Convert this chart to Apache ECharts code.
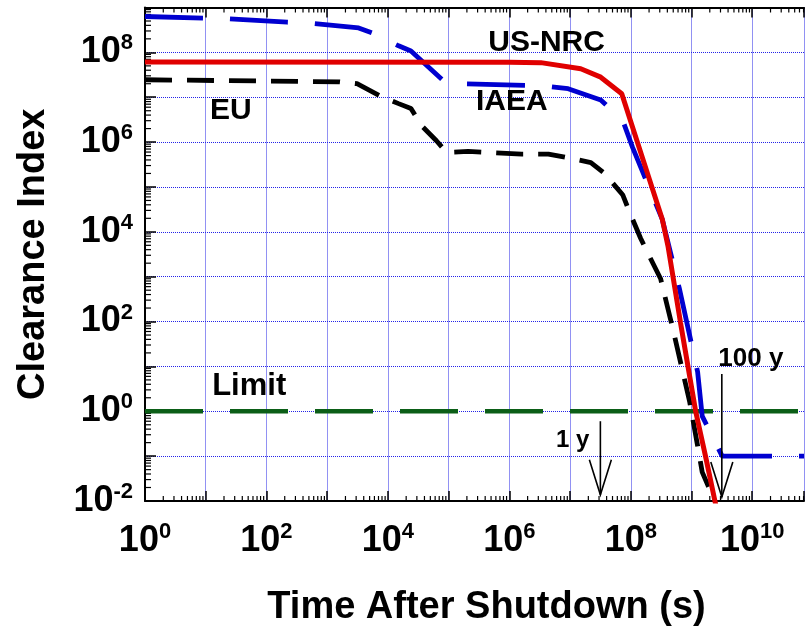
<!DOCTYPE html>
<html><head><meta charset="utf-8">
<script src="https://cdn.jsdelivr.net/npm/echarts@6/dist/echarts.min.js"></script>
<style>html,body{margin:0;padding:0;background:#fff}#c{width:807px;height:632px}</style>
</head><body><div id="c"></div>
<script>
// ---- axis ranges & tick labels ----
const X_MIN = 1, X_MAX = 7.12e10;
const Y_MIN = 0.01, Y_MAX = 1e9;
const X_LABEL_EXPONENTS = [0, 2, 4, 6, 8, 10];
const Y_LABEL_EXPONENTS = [-2, 0, 2, 4, 6, 8];
const X_DECADES = [0, 1, 2, 3, 4, 5, 6, 7, 8, 9, 10];
const Y_DECADES = [-2, -1, 0, 1, 2, 3, 4, 5, 6, 7, 8];
const MINOR_MULTIPLIERS = [2, 3, 4, 5, 6, 7, 8, 9];

// ---- series data (time in s, clearance index) ----
const usnrcTime  = [1, 1e6, 3.3e6, 1.5e7, 3.2e7, 7.1e7, 3.3e8, 4.1e8, 6.6e8, 1.17e9, 1.7e9, 2.45e9, 2.8e9];
const usnrcValue = [6.1e7, 6.0e7, 5.9e7, 4.3e7, 2.8e7, 1.2e7, 1.9e4, 4.8e3, 93, 1.0, 0.1, 0.0095, 0.004];

const iaeaTime  = [1, 24, 220, 620, 3.3e3, 5.5e3, 1.5e4, 2.4e4, 9.3e4, 1.35e5, 3.6e6, 9.3e6, 3.2e7, 7.4e7, 1.07e8, 3.3e8, 6.3e8, 1.26e9, 1.5e9, 3.2e9, 7.12e10];
const iaeaValue = [6.3e8, 5.6e8, 4.7e8, 4.4e8, 3.5e8, 2.7e8, 1.4e8, 1.07e8, 2.0e7, 2.0e7, 1.8e7, 1.55e7, 8.7e6, 3.0e6, 7.6e5, 1.9e4, 550, 7.6, 0.78, 0.1, 0.1];

const euTime  = [1, 1.6e3, 3.1e3, 7.9e3, 1.5e4, 2.4e4, 3.6e4, 6.3e4, 9.3e4, 2.1e5, 1.6e6, 4.4e6, 8.3e6, 2.2e7, 3.7e7, 7.4e7, 9.5e7, 1.45e8, 1.9e8, 3.1e8, 4.9e8, 9.3e8, 1.26e9, 1.5e9, 2.0e9, 2.1e9];
const euValue = [2.45e7, 2.2e7, 2.0e7, 1.02e7, 7.2e6, 5.6e6, 2.3e6, 1.07e6, 5.9e5, 6.2e5, 5.4e5, 5.4e5, 4.6e5, 3.5e5, 2.0e5, 6.6e4, 2.8e4, 7.2e3, 3.4e3, 900, 71, 1.66, 0.17, 0.044, 0.018, 0.0166];

const LIMIT = 1;

// ---- annotations ----
const arrowTime = [3.156e7, 3.156e9];      // 1 year, 100 years
const arrowTop  = [0.6, 6.8];
const arrowTip  = [0.0138, 0.0123];

const noteText = ['US-NRC', 'IAEA', 'EU', 'Limit', '1 y', '100 y'];
const noteTime = [4.1e6, 1.1e6, 26, 52, 1.1e7, 9.5e9];
const noteValue = [1.6e8, 7.8e6, 5.1e6, 3.5, 0.22, 15];
const noteSize = [30, 30, 30, 31, 24, 26];

// ---- build ----
const FONT = '"Liberation Sans", Arial, Helvetica, sans-serif';
const zip = (a, b) => a.map((v, i) => [v, b[i]]);

function expLabel(list) {
  return function (v) {
    const l = Math.log10(v);
    const e = Math.round(l);
    if (Math.abs(l - e) > 1e-6 || list.indexOf(e) < 0) return '';
    return '{b|10}{s|' + e + '}';
  };
}
const rich = {
  b: { fontSize: 36, fontWeight: 'bold', fontFamily: FONT, color: '#000', lineHeight: 40 },
  s: { fontSize: 22, fontWeight: 'bold', fontFamily: FONT, color: '#000', verticalAlign: 'top', lineHeight: 24 }
};
const gridLine = { show: true, lineStyle: { color: '#2424e8', width: 1, type: [1, 1] } };

const chart = echarts.init(document.getElementById('c'), null, { renderer: 'canvas' });
chart.setOption({
  animation: false,
  backgroundColor: '#fff',
  grid: { left: 145, right: 0, top: 7.5, height: 502, containLabel: false },
  xAxis: [{
    type: 'log', logBase: 10, min: X_MIN, max: X_MAX, interval: 1, position: 'bottom',
    axisLine: { lineStyle: { color: '#000', width: 2 } },
    axisTick: { inside: true, length: 10, lineStyle: { color: '#000', width: 1.5 } },
    axisLabel: { formatter: expLabel(X_LABEL_EXPONENTS), rich: rich, margin: 20 },
    splitLine: gridLine,
    name: 'Time After Shutdown (s)', nameLocation: 'middle', nameGap: 88,
    nameTextStyle: { fontSize: 38, fontWeight: 'bold', fontFamily: FONT, color: '#000', padding: [0, 0, 0, 24] }
  }, {
    type: 'log', logBase: 10, min: X_MIN, max: X_MAX, interval: 1, position: 'top',
    axisLine: { lineStyle: { color: '#000', width: 2 } },
    axisTick: { inside: true, length: 10, lineStyle: { color: '#000', width: 1.5 } },
    axisLabel: { show: false }, splitLine: { show: false }
  }],
  yAxis: [{
    type: 'log', logBase: 10, min: Y_MIN, max: Y_MAX, interval: 1,
    axisLine: { lineStyle: { color: '#000', width: 2 } },
    axisTick: { inside: true, length: 11, lineStyle: { color: '#000', width: 1.5 } },
    axisLabel: { formatter: expLabel(Y_LABEL_EXPONENTS), rich: rich, margin: 12 },
    splitLine: gridLine,
    name: 'Clearance Index', nameLocation: 'middle', nameGap: 92,
    nameTextStyle: { fontSize: 38, fontWeight: 'bold', fontFamily: FONT, color: '#000' }
  }],
  series: [
    { name: 'minor', type: 'custom', coordinateSystem: 'cartesian2d', data: [[X_MIN, Y_MIN]], silent: true, clip: false, z: 3,
      renderItem: function (params, api) {
        const cs = params.coordSys;
        const children = [];
        const st = { stroke: '#000', lineWidth: 1.2 };
        X_DECADES.forEach(k => MINOR_MULTIPLIERS.forEach(m => {
          const x = api.coord([m * Math.pow(10, k), Y_MIN])[0];
          if (x > cs.x + cs.width) return;
          children.push({ type: 'line', shape: { x1: x, y1: cs.y + cs.height, x2: x, y2: cs.y + cs.height - 5 }, style: st });
          children.push({ type: 'line', shape: { x1: x, y1: cs.y, x2: x, y2: cs.y + 5 }, style: st });
        }));
        Y_DECADES.forEach(k => MINOR_MULTIPLIERS.forEach(m => {
          const y = api.coord([X_MIN, m * Math.pow(10, k)])[1];
          if (y < cs.y) return;
          children.push({ type: 'line', shape: { x1: cs.x, y1: y, x2: cs.x + 6, y2: y }, style: st });
        }));
        return { type: 'group', children: children };
      }
    },
    { name: 'Limit', type: 'line', data: [[X_MIN, LIMIT], [X_MAX, LIMIT]], showSymbol: false, z: 4,
      lineStyle: { color: '#0b5e17', width: 4.5, type: [58, 27], cap: 'butt' } },
    { name: 'EU', type: 'line', data: zip(euTime, euValue), showSymbol: false, z: 5,
      lineStyle: { color: '#000', width: 4.8, type: [27, 15], cap: 'butt' } },
    { name: 'IAEA', type: 'line', data: zip(iaeaTime, iaeaValue), showSymbol: false, z: 6,
      lineStyle: { color: '#0000d0', width: 4.8, type: [58, 27], cap: 'butt' } },
    { name: 'US-NRC', type: 'line', data: zip(usnrcTime, usnrcValue), showSymbol: false, z: 7,
      lineStyle: { color: '#e00000', width: 5, cap: 'butt' } },
    { name: 'arrows', type: 'custom', coordinateSystem: 'cartesian2d', silent: true, z: 8, clip: false,
      data: arrowTime.map((t, i) => [t, arrowTop[i], arrowTip[i]]),
      renderItem: function (params, api) {
        const p1 = api.coord([api.value(0), api.value(1)]);
        const p2 = api.coord([api.value(0), api.value(2)]);
        const st = { stroke: '#000', lineWidth: 1.6, fill: null };
        return { type: 'group', children: [
          { type: 'line', shape: { x1: p1[0], y1: p1[1], x2: p2[0], y2: p2[1] }, style: st },
          { type: 'polyline', shape: { points: [[p2[0] - 11, p2[1] - 35], [p2[0], p2[1]], [p2[0] + 11, p2[1] - 35]] }, style: st }
        ] };
      }
    },
    { name: 'notes', type: 'custom', coordinateSystem: 'cartesian2d', silent: true, z: 9, clip: false,
      data: noteTime.map((t, i) => [t, noteValue[i]]),
      renderItem: function (params, api) {
        const p = api.coord([api.value(0), api.value(1)]);
        const i = params.dataIndex;
        return { type: 'text', x: p[0], y: p[1], style: {
          text: noteText[i], fill: '#000', align: 'center', verticalAlign: 'middle',
          font: 'bold ' + noteSize[i] + 'px ' + FONT } };
      }
    }
  ]
});
</script></body></html>
